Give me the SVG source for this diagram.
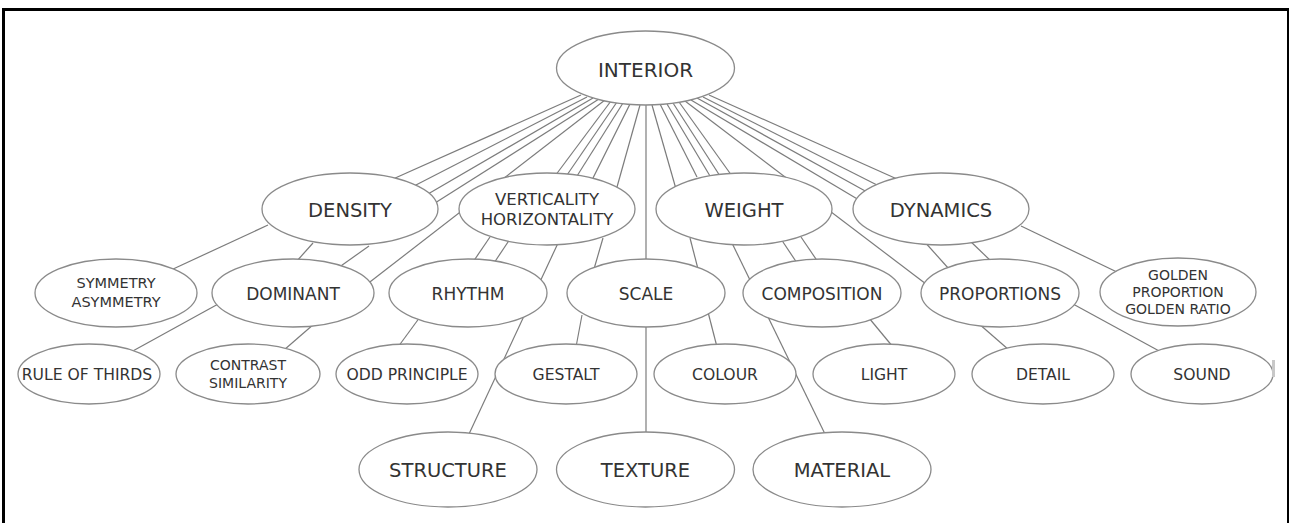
<svg xmlns="http://www.w3.org/2000/svg" width="1289" height="523" viewBox="0 0 1289 523">
<style>
.n ellipse{fill:#fff;stroke:#8a8a8a;stroke-width:1.3}
.n text{font-family:"DejaVu Sans","Liberation Sans",sans-serif;fill:#333;text-anchor:middle;dominant-baseline:central}
.t20{font-size:20px}.t19{font-size:19.5px}.t17{font-size:17px}.t165{font-size:16.5px}.t16{font-size:15.6px}.t14{font-size:14px}.t145{font-size:14.5px}
#connectors line{stroke:#7c7c7c;stroke-width:1.2}
</style>
<rect x="0" y="0" width="1289" height="523" fill="#fff"/>
<g id="frame">
<rect x="2" y="8" width="1287" height="3" fill="#000"/>
<rect x="2" y="8" width="3" height="515" fill="#000"/>
<rect x="1287" y="8" width="2" height="515" fill="#000"/>
</g>
<g id="connectors">
<line x1="581" y1="95" x2="393" y2="179"/>
<line x1="587" y1="97" x2="414" y2="186"/>
<line x1="593" y1="98" x2="428" y2="194"/>
<line x1="599" y1="99" x2="435" y2="203"/>
<line x1="605" y1="100" x2="366" y2="285"/>
<line x1="611" y1="101" x2="555" y2="176"/>
<line x1="617" y1="102" x2="567" y2="175"/>
<line x1="623" y1="103" x2="577" y2="176"/>
<line x1="630" y1="104" x2="593" y2="178"/>
<line x1="640" y1="105" x2="617" y2="187"/>
<line x1="646" y1="102" x2="646" y2="263"/>
<line x1="652" y1="105" x2="676" y2="189"/>
<line x1="660" y1="104" x2="697" y2="177"/>
<line x1="667" y1="104" x2="710" y2="176"/>
<line x1="673" y1="103" x2="720" y2="176"/>
<line x1="679" y1="102" x2="732" y2="176"/>
<line x1="685" y1="101" x2="926" y2="284"/>
<line x1="691" y1="100" x2="859" y2="200"/>
<line x1="697" y1="98" x2="867" y2="192"/>
<line x1="703" y1="97" x2="877" y2="185"/>
<line x1="709" y1="95" x2="897" y2="179"/>
<line x1="268" y1="225" x2="171" y2="270"/>
<line x1="313" y1="243" x2="296" y2="262"/>
<line x1="369" y1="246" x2="338" y2="268"/>
<line x1="220" y1="303" x2="131" y2="352"/>
<line x1="314" y1="324" x2="284" y2="350"/>
<line x1="490" y1="237" x2="473" y2="262"/>
<line x1="510" y1="239" x2="494" y2="263"/>
<line x1="559" y1="241" x2="469" y2="434"/>
<line x1="603" y1="238" x2="594" y2="269"/>
<line x1="690" y1="238" x2="698" y2="269"/>
<line x1="731" y1="241" x2="825" y2="434"/>
<line x1="781" y1="239" x2="797" y2="263"/>
<line x1="801" y1="237" x2="818" y2="262"/>
<line x1="923" y1="240" x2="949" y2="269"/>
<line x1="968" y1="239" x2="993" y2="263"/>
<line x1="1021" y1="226" x2="1119" y2="273"/>
<line x1="978" y1="323" x2="1009" y2="350"/>
<line x1="1073" y1="304" x2="1161" y2="352"/>
<line x1="869" y1="318" x2="893" y2="347"/>
<line x1="582" y1="315" x2="576" y2="347"/>
<line x1="708" y1="312" x2="717" y2="347"/>
<line x1="646" y1="325" x2="646" y2="434"/>
<line x1="420" y1="317" x2="398" y2="347"/>
</g>
<g id="interior" class="n"><ellipse cx="645.5" cy="68" rx="89" ry="37"/><text class="t20" x="645.5" y="70">INTERIOR</text></g>
<g id="density" class="n"><ellipse cx="350" cy="209" rx="88" ry="36"/><text class="t19" x="350" y="210">DENSITY</text></g>
<g id="verticality" class="n"><ellipse cx="547" cy="209" rx="88" ry="36"/><text class="t165" x="547" y="199">VERTICALITY</text><text class="t165" x="547" y="219">HORIZONTALITY</text></g>
<g id="weight" class="n"><ellipse cx="744" cy="209" rx="88" ry="36"/><text class="t19" x="744" y="210">WEIGHT</text></g>
<g id="dynamics" class="n"><ellipse cx="941" cy="209" rx="88" ry="36"/><text class="t19" x="941" y="210">DYNAMICS</text></g>
<g id="symmetry" class="n"><ellipse cx="116" cy="293" rx="81" ry="34"/><text class="t145" x="116" y="283">SYMMETRY</text><text class="t145" x="116" y="302">ASYMMETRY</text></g>
<g id="dominant" class="n"><ellipse cx="293" cy="293" rx="81" ry="34"/><text class="t17" x="293" y="294">DOMINANT</text></g>
<g id="rhythm" class="n"><ellipse cx="468" cy="293" rx="79" ry="34"/><text class="t17" x="468" y="294">RHYTHM</text></g>
<g id="scale" class="n"><ellipse cx="646" cy="293" rx="79" ry="34"/><text class="t17" x="646" y="294">SCALE</text></g>
<g id="composition" class="n"><ellipse cx="822" cy="293" rx="79" ry="34"/><text class="t17" x="822" y="294">COMPOSITION</text></g>
<g id="proportions" class="n"><ellipse cx="1000" cy="293" rx="79" ry="34"/><text class="t17" x="1000" y="294">PROPORTIONS</text></g>
<g id="golden" class="n"><ellipse cx="1178" cy="292" rx="78" ry="34"/><text class="t14" x="1178" y="275">GOLDEN</text><text class="t14" x="1178" y="292">PROPORTION</text><text class="t14" x="1178" y="309">GOLDEN RATIO</text></g>
<g id="rule-of-thirds" class="n"><ellipse cx="89" cy="374" rx="71" ry="30"/><text class="t16" x="87" y="375">RULE OF THIRDS</text></g>
<g id="contrast" class="n"><ellipse cx="248" cy="374" rx="72" ry="30"/><text class="t14" x="248" y="365">CONTRAST</text><text class="t14" x="248" y="383">SIMILARITY</text></g>
<g id="odd-principle" class="n"><ellipse cx="407" cy="374" rx="71" ry="30"/><text class="t16" x="407" y="375">ODD PRINCIPLE</text></g>
<g id="gestalt" class="n"><ellipse cx="566" cy="374" rx="71" ry="30"/><text class="t16" x="566" y="375">GESTALT</text></g>
<g id="colour" class="n"><ellipse cx="725" cy="374" rx="71" ry="30"/><text class="t16" x="725" y="375">COLOUR</text></g>
<g id="light" class="n"><ellipse cx="884" cy="374" rx="71" ry="30"/><text class="t16" x="884" y="375">LIGHT</text></g>
<g id="detail" class="n"><ellipse cx="1043" cy="374" rx="71" ry="30"/><text class="t16" x="1043" y="375">DETAIL</text></g>
<g id="sound" class="n"><ellipse cx="1202" cy="374" rx="71" ry="30"/><rect x="1272" y="360" width="3" height="17" fill="#c8c8c8"/><text class="t16" x="1202" y="375">SOUND</text></g>
<g id="structure" class="n"><ellipse cx="448" cy="469.5" rx="89" ry="37.5"/><text class="t19" x="448" y="470">STRUCTURE</text></g>
<g id="texture" class="n"><ellipse cx="645.5" cy="469.5" rx="89" ry="37.5"/><text class="t19" x="645.5" y="470">TEXTURE</text></g>
<g id="material" class="n"><ellipse cx="842" cy="469.5" rx="89" ry="37.5"/><text class="t19" x="842" y="470">MATERIAL</text></g>
</svg>
